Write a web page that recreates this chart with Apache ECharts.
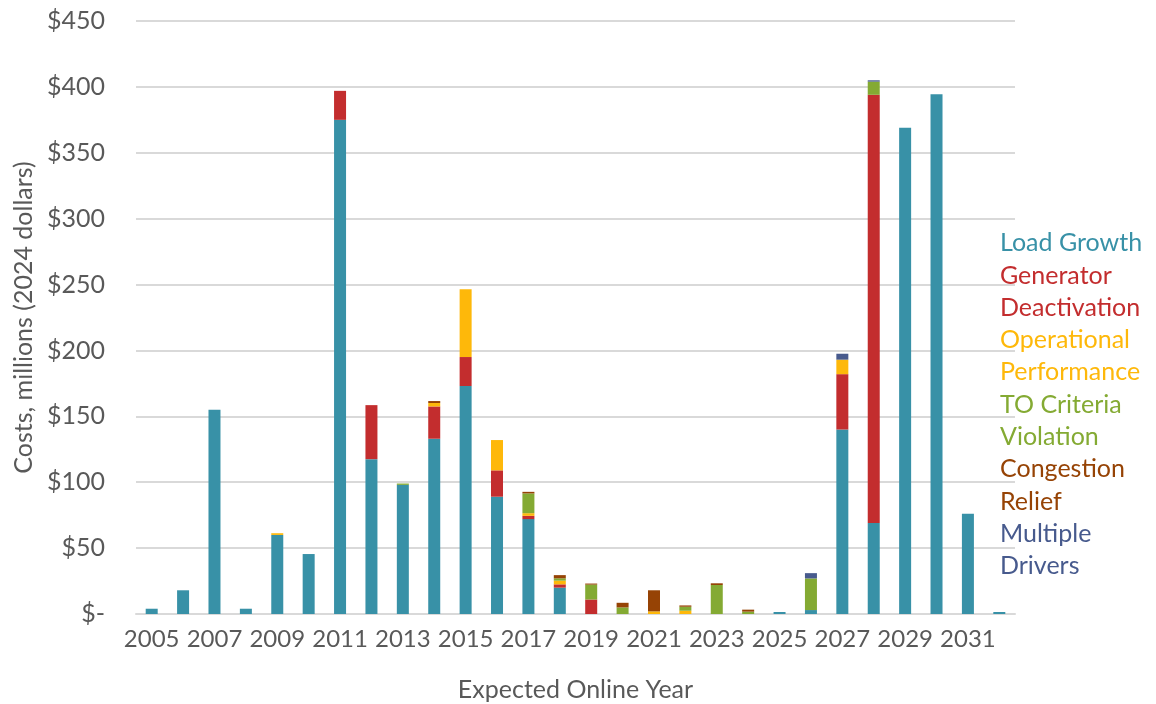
<!DOCTYPE html>
<html>
<head>
<meta charset="utf-8">
<script src="https://cdn.jsdelivr.net/npm/echarts@6/dist/echarts.min.js"></script>
<style>html,body{margin:0;padding:0;background:#fff;}#c{width:1156px;height:704px;}</style>
</head>
<body>
<div id="c"></div>
<script>
var years = ['2005','2006','2007','2008','2009','2010','2011','2012','2013','2014','2015','2016','2017','2018','2019','2020','2021','2022','2023','2024','2025','2026','2027','2028','2029','2030','2031','2032'];
var loadGrowth =      [4, 18, 155, 4, 60, 45.5, 375, 117.5, 98, 133, 173, 89, 72, 20, 0, 0, 0, 0, 0, 0, 1.5, 3, 140, 69, 369, 394.5, 76, 1.5];
var generatorDeact =  [0, 0, 0, 0, 0, 0, 22, 41, 0, 24.5, 22, 20, 2.5, 2.5, 11, 0, 0, 0, 0, 0, 0, 0, 42, 325, 0, 0, 0, 0];
var operationalPerf = [0, 0, 0, 0, 1.3, 0, 0, 0, 0, 2.6, 51.5, 23, 2, 2.8, 0, 0, 2, 2.5, 0, 0, 0, 0, 11, 0, 0, 0, 0, 0];
var toCriteria =      [0, 0, 0, 0, 0, 0, 0, 0, 1, 0, 0, 0, 15, 1.8, 11.3, 5, 0, 3, 22, 1.8, 0, 24, 0, 10, 0, 0, 0, 0];
var congestion =      [0, 0, 0, 0, 0, 0, 0, 0, 0, 1.5, 0, 0, 1.2, 2.4, 0.8, 3.5, 16, 1, 1.3, 1.5, 0, 0, 0, 0, 0, 0, 0, 0];
var multipleDrivers = [0, 0, 0, 0, 0, 0, 0, 0, 0, 0, 0, 0, 0, 0, 0, 0, 0, 0, 0, 0, 0, 4, 4.5, 1, 0, 0, 0, 0];
var yTicks = [0, 50, 100, 150, 200, 250, 300, 350, 400, 450];

var seriesDefs = [
  {name: 'Load Growth', label: 'Load Growth', data: loadGrowth, color: '#3891A7'},
  {name: 'Generator Deactivation', label: 'Generator\nDeactivation', data: generatorDeact, color: '#C32D2E'},
  {name: 'Operational Performance', label: 'Operational\nPerformance', data: operationalPerf, color: '#FEB80A'},
  {name: 'TO Criteria Violation', label: 'TO Criteria\nViolation', data: toCriteria, color: '#84AA33'},
  {name: 'Congestion Relief', label: 'Congestion\nRelief', data: congestion, color: '#964305'},
  {name: 'Multiple Drivers', label: 'Multiple\nDrivers', data: multipleDrivers, color: '#475A8D'}
];
var labelMap = {};
seriesDefs.forEach(function(s){ labelMap[s.name] = s.label; });

var FONT = 'Lato, "Open Sans", sans-serif';
var chart = echarts.init(document.getElementById('c'), null, {renderer: 'canvas'});
chart.setOption({
  animation: false,
  backgroundColor: '#ffffff',
  textStyle: {fontFamily: FONT},
  grid: {left: 136, right: 141, top: 21, bottom: 90, containLabel: false, outerBoundsMode: 'none'},
  legend: {
    orient: 'vertical',
    left: 995,
    top: 227,
    padding: 0,
    itemWidth: 0,
    itemHeight: 0,
    itemGap: 0,
    icon: 'rect',
    selectedMode: false,
    formatter: function(n){ return labelMap[n]; },
    textStyle: {fontSize: 25, fontFamily: FONT, lineHeight: 32.3, padding: [0,0,0,0]},
    data: seriesDefs.map(function(s){ return {name: s.name, textStyle: {color: s.color}}; })
  },
  xAxis: {
    type: 'category',
    data: years,
    name: 'Expected Online Year',
    nameLocation: 'middle',
    nameGap: 63,
    nameTextStyle: {fontSize: 25, color: '#595959', fontFamily: FONT},
    axisLine: {lineStyle: {color: '#D9D9D9', width: 2}},
    axisTick: {show: false},
    axisLabel: {interval: 1, fontSize: 24, color: '#595959', margin: 13, fontFamily: FONT}
  },
  yAxis: {
    type: 'value',
    min: 0,
    max: 450,
    interval: 50,
    name: 'Costs, millions (2024 dollars)',
    nameLocation: 'middle',
    nameGap: 94,
    nameRotate: 90,
    nameTextStyle: {fontSize: 25, color: '#595959', fontFamily: FONT},
    axisLine: {show: false},
    axisTick: {show: false},
    splitLine: {lineStyle: {color: '#D9D9D9', width: 2}},
    axisLabel: {
      fontSize: 25, color: '#595959', margin: 31, fontFamily: FONT,
      formatter: function(v){ return v === 0 ? '$-' : '$' + v; }
    }
  },
  series: seriesDefs.map(function(s){
    return {
      name: s.name,
      type: 'bar',
      stack: 'total',
      barWidth: 12,
      data: s.data,
      itemStyle: {color: s.color},
      emphasis: {disabled: true}
    };
  })
});
</script>
</body>
</html>
